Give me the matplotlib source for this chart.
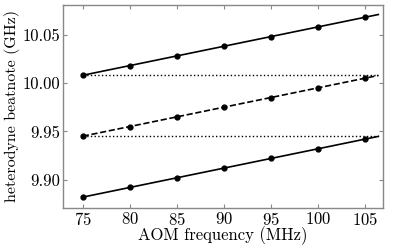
import numpy as np
import matplotlib
matplotlib.use("Agg")
import matplotlib.pyplot as plt

plt.rcParams['font.family'] = 'cmr10'
plt.rcParams['axes.formatter.use_mathtext'] = True
plt.rcParams['mathtext.fontset'] = 'cm'

aom = [75, 80, 85, 90, 95, 100, 105]
upper = [10.008, 10.018, 10.028, 10.038, 10.048, 10.058, 10.068]
middle = [9.945, 9.955, 9.965, 9.975, 9.985, 9.995, 10.005]
lower = [9.882, 9.892, 9.902, 9.912, 9.922, 9.932, 9.942]
ref_levels = [10.008, 9.945]
x_end = 106.4

fig = plt.figure(figsize=(3.99, 2.45), dpi=100)
ax = fig.add_axes([0.158, 0.152, 0.802, 0.829])

xf = np.array([aom[0], x_end])
for vals, ls in [(upper, '-'), (middle, '--'), (lower, '-')]:
    p = np.polyfit(aom, vals, 1)
    ax.plot(xf, np.polyval(p, xf), ls, color='black', lw=1.2)
    ax.plot(aom, vals, 'o', color='black', ms=3.5)

for lvl in ref_levels:
    ax.plot([aom[0], x_end], [lvl, lvl], ':', color='black', lw=1.0)

ax.set_xlim(72.9, 106.9)
ax.set_ylim(9.871, 10.081)
ax.set_xticks(aom)
ax.set_yticks([9.90, 9.95, 10.00, 10.05])
ax.yaxis.set_major_formatter(matplotlib.ticker.FormatStrFormatter('%.2f'))
ax.tick_params(direction='in', top=True, right=True, color='#888888',
               labelsize=12, length=3, pad=2)
for s in ax.spines.values():
    s.set_color('#888888')
    s.set_linewidth(1.0)
ax.set_xlabel('AOM frequency (MHz)', fontsize=12, labelpad=-1)
ax.set_ylabel('heterodyne beatnote (GHz)', fontsize=11.5, labelpad=2)

fig.savefig('out.png', dpi=100)
